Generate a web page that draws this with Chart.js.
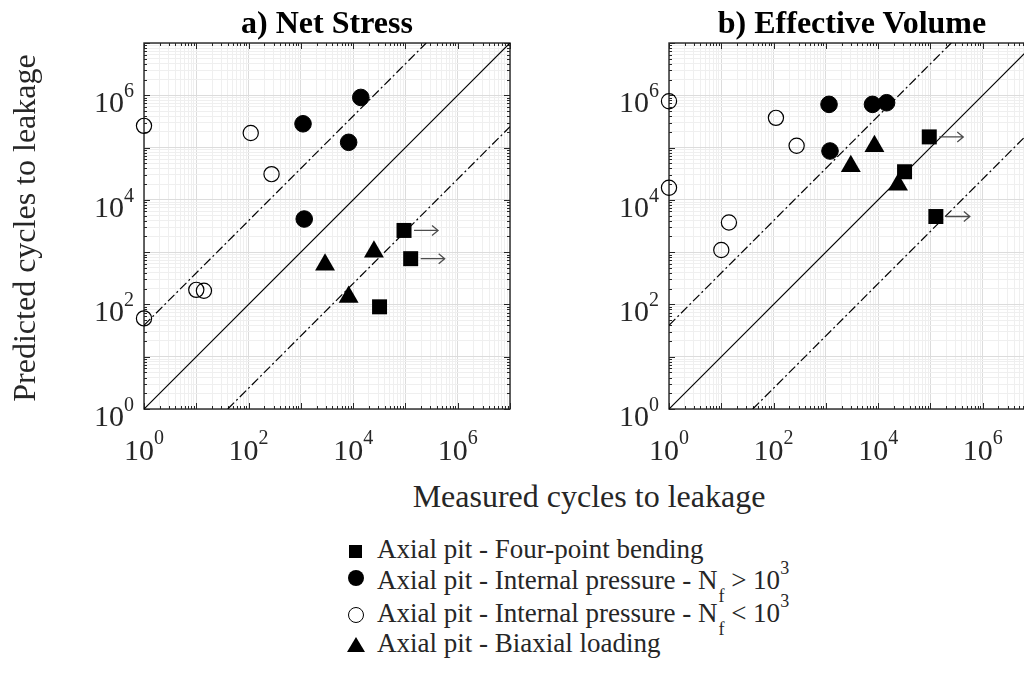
<!DOCTYPE html>
<html>
<head>
<meta charset="utf-8">
<script src="https://cdn.jsdelivr.net/npm/chart.js@4.4.0/dist/chart.umd.min.js"></script>
<style>
  body { margin: 0; width: 1024px; height: 678px; overflow: hidden; background: #fff; position: relative;
         font-family: "Liberation Serif", "Times New Roman", serif; color: #262626; }
  canvas { position: absolute; top: 0; }
  .ttl { position: absolute; width: 400px; text-align: center; font-weight: bold; font-size: 32px; line-height: 32px; color: #000; top: 6px; }
  .xlab { position: absolute; left: 389px; width: 400px; text-align: center; font-size: 32px; line-height: 32px; top: 480px; }
  .ylab { position: absolute; left: -176px; top: 212px; width: 400px; height: 32px; text-align: center; font-size: 32px; line-height: 32px; transform: rotate(-90deg); white-space: nowrap; }
  .row { position: absolute; left: 377px; font-size: 27px; line-height: 30px; white-space: nowrap; }
  .sb { position: relative; top: 13px; font-size: 18px; margin-left: 1px; }
  .sp { position: relative; top: -15px; font-size: 18px; }
  .mk { position: absolute; }
</style>
</head>
<body>
<canvas id="chartA" width="540" height="470" style="left:0"></canvas>
<canvas id="chartB" width="540" height="470" style="left:540px"></canvas>

<div class="ttl" style="left:127px">a) Net Stress</div>
<div class="ttl" style="left:652px">b) Effective Volume</div>
<div class="ylab">Predicted cycles to leakage</div>
<div class="xlab">Measured cycles to leakage</div>

<div class="mk" style="left:349px;top:545px;width:13px;height:13px;background:#000"></div>
<div class="mk" style="left:348px;top:570px;width:16px;height:16px;border-radius:50%;background:#000"></div>
<div class="mk" style="left:348px;top:607px;width:14px;height:14px;border-radius:50%;border:1px solid #000"></div>
<div class="mk" style="left:347px;top:637px;width:0;height:0;border-left:9px solid transparent;border-right:9px solid transparent;border-bottom:15px solid #000"></div>
<div class="row" style="top:534px">Axial pit - Four-point bending</div>
<div class="row" style="top:565px">Axial pit - Internal pressure - N<span class="sb">f</span> &gt; 10<span class="sp">3</span></div>
<div class="row" style="top:598px">Axial pit - Internal pressure - N<span class="sb">f</span> &lt; 10<span class="sp">3</span></div>
<div class="row" style="top:628px">Axial pit - Biaxial loading</div>

<script>
// a) Net Stress
const netSquareX = [9.4e4, 1.26e5, 3.2e4];
const netSquareY = [2.6e3, 750, 90];
const netCircleX = [1.4e4, 1.1e3, 8.2e3, 1.16e3];
const netCircleY = [9.1e5, 2.85e5, 1.26e5, 4.3e3];
const netOpenX = [1, 110, 275, 10, 14, 1];
const netOpenY = [2.6e5, 1.9e5, 3.1e4, 190, 183, 54];
const netTriX = [2.9e3, 2.5e4, 8.2e3];
const netTriY = [575, 1.02e3, 138];

// b) Effective Volume
const effSquareX = [9.5e4, 1.27e5, 3.2e4];
const effSquareY = [1.6e5, 4.8e3, 3.45e4];
const effCircleX = [1.15e3, 7.8e3, 1.45e4, 1.2e3];
const effCircleY = [6.7e5, 6.7e5, 7.2e5, 8.6e4];
const effOpenX = [1, 1, 111, 276, 14, 10];
const effOpenY = [7.7e5, 1.7e4, 3.7e5, 1.08e5, 3.7e3, 1.1e3];
const effTriX = [3e3, 8.5e3, 2.4e4];
const effTriY = [4.4e4, 1.06e5, 1.95e4];

// square tests that had not leaked yet (drawn with an arrow)
const squareRunout = [true, true, false];

// 1:1 line and factor-of-40 scatter band
const unityX = [1, 1e7];
const unityY = [1, 1e7];
const upperX = [1, 2.5e5];
const upperY = [40, 1e7];
const lowerX = [40, 1e7];
const lowerY = [1, 2.5e5];

const labelExps = [0, 2, 4, 6];

const gridValues = [];
for (let e = 0; e < 7; e++) for (let m = 1; m < 10; m++) gridValues.push(m * Math.pow(10, e));
gridValues.push(1e7);
const isMajor = v => Math.abs(Math.log10(v) - Math.round(Math.log10(v))) < 1e-9;

const pts = (xs, ys) => xs.map((x, i) => ({ x: x, y: ys[i] }));

function axis(isX) {
  return {
    type: 'logarithmic', min: 1, max: 1e7,
    afterBuildTicks: s => { s.ticks = gridValues.map(v => ({ value: v, major: isMajor(v) })); },
    afterFit: s => { if (isX) s.height = 0; else s.width = 0; },
    ticks: { display: false },
    grid: { drawTicks: false, lineWidth: 1,
            color: c => (c.tick && isMajor(c.tick.value)) ? '#dcdcdc' : '#efefef' },
    border: { display: false }
  };
}

const frame = {
  id: 'frame',
  beforeDatasetsDraw(chart) {
    const a = chart.chartArea, ctx = chart.ctx;
    const xs = chart.scales.x, ys = chart.scales.y;
    ctx.save();
    ctx.strokeStyle = '#262626';
    ctx.lineWidth = 1;
    ctx.beginPath();
    gridValues.forEach(v => {
      const len = isMajor(v) ? 6 : 3;
      const px = Math.round(xs.getPixelForValue(v)) + 0.5;
      ctx.moveTo(px, a.bottom); ctx.lineTo(px, a.bottom - len);
      ctx.moveTo(px, a.top); ctx.lineTo(px, a.top + len);
      const py = Math.round(ys.getPixelForValue(v)) + 0.5;
      ctx.moveTo(a.left, py); ctx.lineTo(a.left + len, py);
      ctx.moveTo(a.right, py); ctx.lineTo(a.right - len, py);
    });
    ctx.stroke();
    ctx.lineWidth = 1.4;
    ctx.strokeRect(a.left, a.top, a.right - a.left, a.bottom - a.top);
    ctx.restore();
  },
  afterDatasetsDraw(chart) {
    const ctx = chart.ctx;
    ctx.save();
    ctx.strokeStyle = '#4d4d4d';
    ctx.lineWidth = 1.3;
    chart.data.datasets.forEach((ds, i) => {
      if (!ds.runout) return;
      chart.getDatasetMeta(i).data.forEach((el, j) => {
        if (!ds.runout[j]) return;
        const x0 = el.x + 10, x1 = el.x + 34, y = el.y;
        ctx.beginPath();
        ctx.moveTo(x0, y); ctx.lineTo(x1, y);
        ctx.moveTo(x1 - 6, y - 5); ctx.lineTo(x1, y); ctx.lineTo(x1 - 6, y + 5);
        ctx.stroke();
      });
    });
    ctx.restore();
  },
  afterDraw(chart) {
    const a = chart.chartArea, ctx = chart.ctx;
    ctx.save();
    ctx.fillStyle = '#262626';
    ctx.textBaseline = 'alphabetic';
    labelExps.forEach(e => {
      const v = Math.pow(10, e);
      ctx.font = '30px "Liberation Serif"';
      const wb = ctx.measureText('10').width;
      ctx.font = '20px "Liberation Serif"';
      const we = ctx.measureText(String(e)).width;
      // x axis
      const px = chart.scales.x.getPixelForValue(v);
      const sx = px - (wb + we) / 2;
      ctx.font = '30px "Liberation Serif"';
      ctx.fillText('10', sx, a.bottom + 51);
      ctx.font = '20px "Liberation Serif"';
      ctx.fillText(String(e), sx + wb, a.bottom + 35);
      // y axis
      const py = chart.scales.y.getPixelForValue(v);
      const sy = a.left - 50;
      ctx.font = '30px "Liberation Serif"';
      ctx.fillText('10', sy, py + 17);
      ctx.font = '20px "Liberation Serif"';
      ctx.fillText(String(e), sy + wb, py + 2);
    });
    ctx.restore();
  }
};

function refLine(xs, ys, dash) {
  return { data: pts(xs, ys), showLine: true, pointRadius: 0, borderColor: '#000',
           borderWidth: 1.2, borderDash: dash, order: 5 };
}

function makeChart(id, pad, sq, ci, op, tr) {
  new Chart(document.getElementById(id), {
    type: 'scatter',
    data: {
      datasets: [
        { data: sq, runout: squareRunout, pointStyle: 'rect', pointRadius: 10.6, backgroundColor: '#000', borderColor: '#000', borderWidth: 0, clip: false, order: 1 },
        { data: ci, pointStyle: 'circle', pointRadius: 8.3, backgroundColor: '#000', borderColor: '#000', borderWidth: 1, clip: false, order: 1 },
        { data: op, pointStyle: 'circle', pointRadius: 7.6, backgroundColor: 'rgba(0,0,0,0)', borderColor: '#000', borderWidth: 1.2, clip: false, order: 1 },
        { data: tr, pointStyle: 'triangle', pointRadius: 11.5, backgroundColor: '#000', borderColor: '#000', borderWidth: 0, clip: false, order: 1 },
        refLine(unityX, unityY, []),
        refLine(upperX, upperY, [9, 3, 2, 3]),
        refLine(lowerX, lowerY, [9, 3, 2, 3])
      ]
    },
    options: {
      responsive: false,
      animation: false,
      layout: { padding: pad },
      plugins: { legend: { display: false }, tooltip: { enabled: false } },
      scales: { x: axis(true), y: axis(false) }
    },
    plugins: [frame]
  });
}

makeChart('chartA', { left: 144, top: 43, right: 30, bottom: 61 },
  pts(netSquareX, netSquareY), pts(netCircleX, netCircleY), pts(netOpenX, netOpenY), pts(netTriX, netTriY));
makeChart('chartB', { left: 129, top: 43, right: 45, bottom: 61 },
  pts(effSquareX, effSquareY), pts(effCircleX, effCircleY), pts(effOpenX, effOpenY), pts(effTriX, effTriY));
</script>
</body>
</html>
